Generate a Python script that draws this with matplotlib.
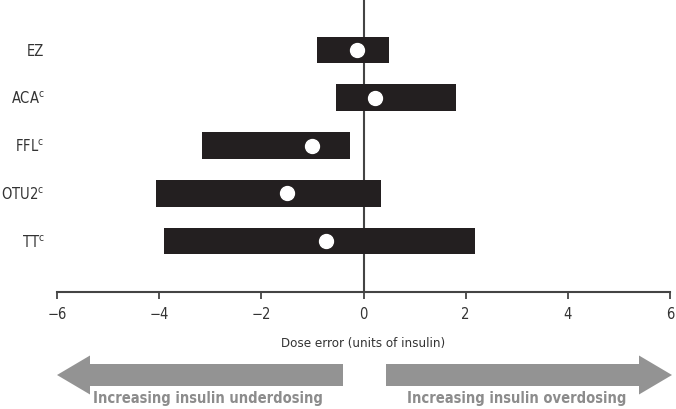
import matplotlib
matplotlib.use("Agg")
import matplotlib.pyplot as plt
from matplotlib.patches import FancyArrow

plt.rcParams["font.family"] = ["DejaVu Sans"]
plt.rcParams["font.stretch"] = "condensed"
plt.rcParams["mathtext.default"] = "regular"

methods = ["EZ", "ACA$^{c}$", "FFL$^{c}$", "OTU2$^{c}$", "TT$^{c}$"]
lower = [-0.92, -0.53, -3.16, -4.06, -3.90]
upper = [0.49, 1.82, -0.27, 0.35, 2.18]
mean_err = [-0.12, 0.23, -1.00, -1.49, -0.73]
xticks = [-6, -4, -2, 0, 2, 4, 6]

text_c = "#333333"
fig = plt.figure(figsize=(6.76, 4.09), dpi=100)
ax = fig.add_axes([57 / 676, 1 - 292 / 409, 613 / 676, 292 / 409])

ypos = list(range(len(methods)))
widths = [u - l for l, u in zip(lower, upper)]
ax.barh(ypos, widths, left=lower, height=0.55, color="#231f20", zorder=2)
ax.axvline(0, color="#444444", lw=1.5, zorder=1)
ax.plot(mean_err, ypos, "o", color="white", markersize=10, zorder=3)

ax.set_xlim(-6, 6)
ax.set_ylim(len(methods) - 1 + 1.06, -1.04)
ax.set_yticks(ypos)
ax.set_yticklabels(methods, fontsize=10.5, color=text_c)
ax.set_xticks(xticks)
ax.set_xticklabels([str(t).replace("-", "\u2212") for t in xticks], fontsize=10.5, color=text_c)
ax.tick_params(axis="y", length=0, pad=9)
ax.tick_params(axis="x", direction="out", length=5, width=1.3, color="#444444", pad=6)
for s in ["left", "right", "top"]:
    ax.spines[s].set_visible(False)
ax.spines["bottom"].set_color("#444444")
ax.spines["bottom"].set_linewidth(1.5)

# arrows and captions in pixel space
ov = fig.add_axes([0, 0, 1, 1])
ov.set_xlim(0, 676)
ov.set_ylim(409, 0)
ov.axis("off")
ov.patch.set_alpha(0)
ov.text(363, 343, "Dose error (units of insulin)", ha="center", va="center", fontsize=9.5, color=text_c)
grey = "#939393"
ov.add_patch(FancyArrow(343, 375, -(343 - 57), 0, width=22, head_width=39, head_length=33,
                        length_includes_head=True, color=grey, lw=0))
ov.add_patch(FancyArrow(386, 375, 672 - 386, 0, width=22, head_width=39, head_length=33,
                        length_includes_head=True, color=grey, lw=0))
ov.text(208, 399, "Increasing insulin underdosing", ha="center", va="center",
        fontsize=10.5, fontweight="bold", color="#8c8c8c")
ov.text(517, 399, "Increasing insulin overdosing", ha="center", va="center",
        fontsize=10.5, fontweight="bold", color="#8c8c8c")

fig.savefig("out.png", dpi=100)
